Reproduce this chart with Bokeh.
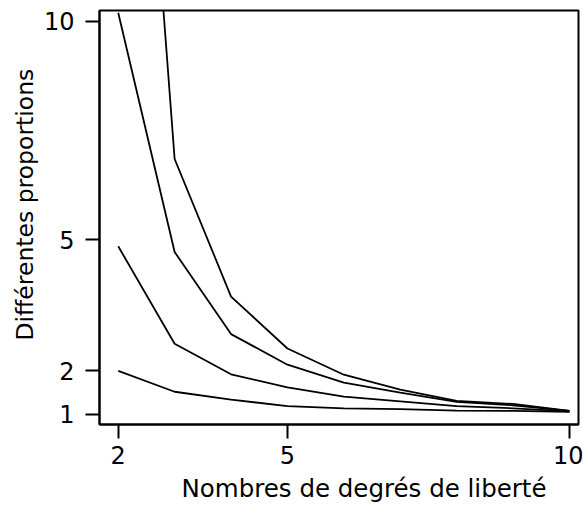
from bokeh.plotting import figure
from bokeh.models import Range1d, FixedTicker, Title
from bokeh.embed import file_html
from bokeh.resources import INLINE

# Data
ddl = [2, 3, 4, 5, 6, 7, 8, 9, 10]
courbe1 = [2.0, 1.52, 1.34, 1.19, 1.14, 1.12, 1.09, 1.08, 1.06]
courbe2 = [4.85, 2.62, 1.92, 1.62, 1.41, 1.30, 1.19, 1.14, 1.07]
courbe3 = [10.2, 4.72, 2.84, 2.14, 1.73, 1.50, 1.29, 1.21, 1.08]
courbe4 = [24.0, 6.85, 3.70, 2.51, 1.91, 1.57, 1.31, 1.24, 1.08]

x_ticks = [2, 5, 10]
y_ticks = [1, 2, 5, 10]
x_title = "Nombres de degrés de liberté"
y_title = "Différentes proportions"

FONT = "DejaVu Sans"
FSIZE = "24px"

p = figure(width=583, height=509,
           x_range=Range1d(1.668, 10.16), y_range=Range1d(0.77, 10.25),
           output_backend="svg", toolbar_location=None,
           min_border_left=99, min_border_right=5,
           min_border_top=10, min_border_bottom=85,
           background_fill_color="white", border_fill_color="white")

for c in (courbe1, courbe2, courbe3, courbe4):
    p.line(ddl, c, line_color="black", line_width=1.8)

p.xgrid.visible = False
p.ygrid.visible = False
p.outline_line_color = "black"
p.outline_line_width = 2

p.xaxis.ticker = FixedTicker(ticks=x_ticks)
p.yaxis.ticker = FixedTicker(ticks=y_ticks)

for ax in (p.xaxis, p.yaxis):
    ax.axis_line_color = "black"
    ax.axis_line_width = 2
    ax.major_tick_line_color = "black"
    ax.major_tick_line_width = 2
    ax.major_tick_out = 14
    ax.major_tick_in = 0
    ax.minor_tick_line_color = None
    ax.major_label_text_font = FONT
    ax.major_label_text_font_size = FSIZE
    ax.major_label_text_color = "black"

p.xaxis.major_label_standoff = 7
p.yaxis.major_label_standoff = 11

# Axis titles as side titles (offset along the frame edge)
p.add_layout(Title(text=x_title, align="left", offset=82, standoff=11,
                   text_font=FONT, text_font_size="24.5px",
                   text_font_style="normal", text_color="black"), "below")
p.add_layout(Title(text=y_title, align="left", offset=84, standoff=4,
                   text_font=FONT, text_font_size="23.5px",
                   text_font_style="normal", text_color="black"), "left")

open("out.html", "w").write(file_html(p, INLINE))
